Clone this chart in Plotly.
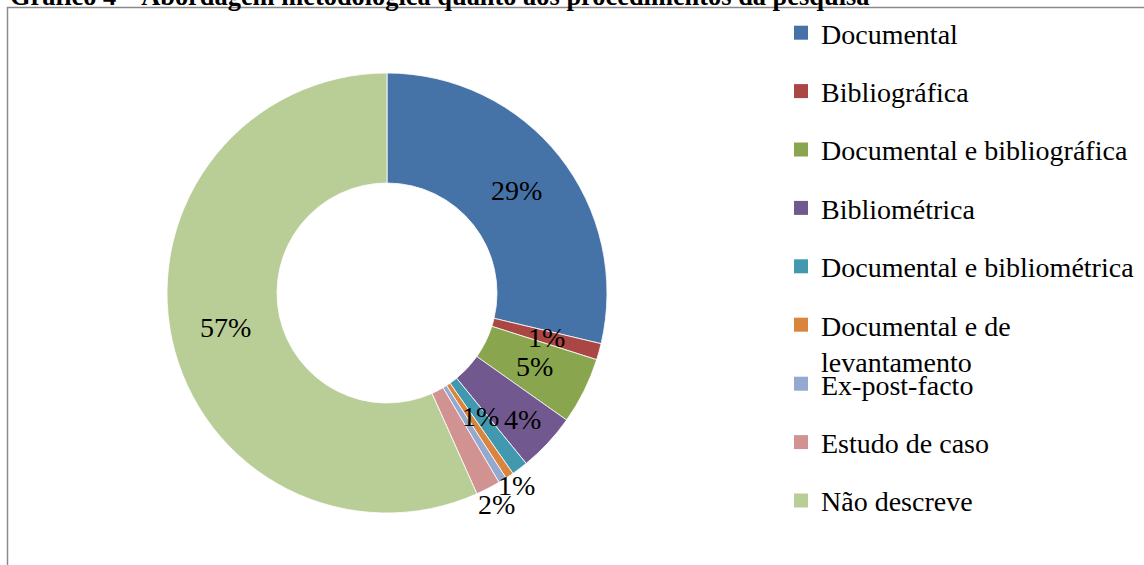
import math
import plotly.graph_objects as go

# Procedimentos de pesquisa (percentual dos trabalhos)
categorias = [
    "Documental",
    "Bibliográfica",
    "Documental e bibliográfica",
    "Bibliométrica",
    "Documental e bibliométrica",
    "Documental e de<br>levantamento",
    "Ex-post-facto",
    "Estudo de caso",
    "Não descreve",
]
percentuais = [28.7, 1.2, 4.9, 4.3, 1.2, 0.6, 0.6, 1.8, 56.7]
cores = [
    "#4572A7", "#AA4643", "#89A54E", "#71588F", "#4198AF",
    "#DB843D", "#93A9CF", "#D19392", "#B9CD96",
]
titulo = "Gráfico 4 – Abordagem metodológica quanto aos procedimentos da pesquisa"

# Distância radial de cada rótulo (fração do raio externo); None = sem rótulo
raio_rotulo = [0.75, 0.75, 0.75, 0.845, 0.705, 1.055, None, 1.08, 0.75]

W, H = 1144, 565
FONTE = "Liberation Serif"

# Geometria do anel
CX_PX, CY_PX, R_PX = 387, 293, 220
FURO = 0.5
dom_x = [(CX_PX - R_PX) / W, (CX_PX + R_PX) / W]
dom_y = [(H - CY_PX - R_PX) / H, (H - CY_PX + R_PX) / H]

fig = go.Figure()

fig.add_trace(go.Pie(
    labels=categorias,
    values=percentuais,
    hole=FURO,
    sort=False,
    direction="clockwise",
    rotation=0,
    marker=dict(colors=cores, line=dict(color="white", width=0.8)),
    textinfo="none",
    domain=dict(x=dom_x, y=dom_y),
    showlegend=False,
    hoverinfo="label+percent",
))

# Rótulos de percentual: no ângulo médio de cada fatia
total = sum(percentuais)
anotacoes = []
acumulado = 0.0
for valor, fr in zip(percentuais, raio_rotulo):
    meio = (acumulado + valor / 2) / total
    acumulado += valor
    if fr is None:
        continue
    ang = 2 * math.pi * meio  # sentido horário a partir do topo
    r = fr * R_PX
    anotacoes.append(dict(
        text=f"{round(100 * valor / total)}%",
        xref="paper", yref="paper",
        x=(CX_PX + r * math.sin(ang)) / W,
        y=(H - CY_PX + r * math.cos(ang)) / H,
        xanchor="center", yanchor="middle", showarrow=False,
        font=dict(family=FONTE, size=28, color="black"),
    ))

# Legenda: uma entrada por categoria, dividida em dois blocos
for i, (nome, cor) in enumerate(zip(categorias, cores)):
    fig.add_trace(go.Scatter(
        x=[None], y=[None], mode="markers", name=nome,
        marker=dict(symbol="square", size=14, color=cor, line=dict(width=0)),
        legendgroup=nome,
        legend="legend" if i < 6 else "legend2",
        hoverinfo="skip",
    ))

legenda_base = dict(
    font=dict(family=FONTE, size=28, color="black"),
    bgcolor="rgba(0,0,0,0)", borderwidth=0,
    traceorder="grouped", tracegroupgap=19, valign="top",
    xanchor="left", yanchor="top", x=781 / W, itemclick=False,
)
fig.update_layout(
    legend=dict(legenda_base, y=(H - 8) / H),
    legend2=dict(legenda_base, y=(H - 359) / H),
)

anotacoes.append(dict(
    text="<b>" + titulo + "</b>", xref="paper", yref="paper",
    x=8 / W, y=(H + 4) / H, xanchor="left", yanchor="middle",
    showarrow=False, font=dict(family=FONTE, size=26.4, color="black"),
))

fig.update_layout(
    width=W, height=H,
    margin=dict(l=0, r=0, t=0, b=0),
    paper_bgcolor="white", plot_bgcolor="white",
    xaxis=dict(visible=False), yaxis=dict(visible=False),
    shapes=[dict(type="rect", xref="paper", yref="paper",
                 x0=7.5 / W, x1=1.02, y0=-0.02, y1=(H - 7.5) / H,
                 line=dict(color="#8a8a8a", width=1.5), layer="below")],
    annotations=anotacoes,
)

fig.write_html("out.html")
